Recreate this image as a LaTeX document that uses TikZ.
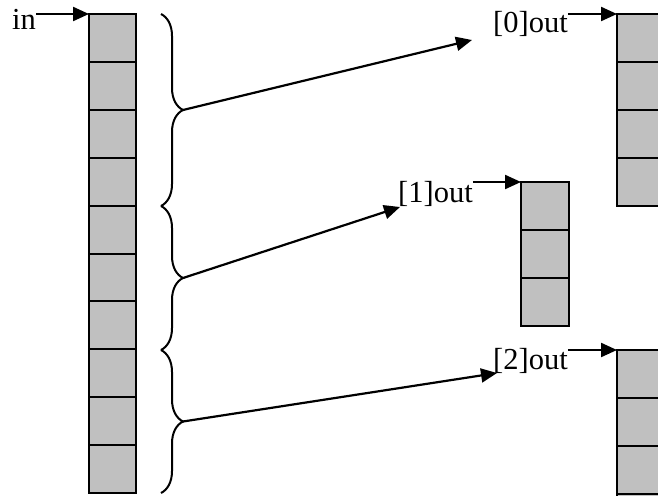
\documentclass[tikz,border=0pt]{standalone}
\usepackage{fontspec}
\setmainfont{Liberation Serif}
\usetikzlibrary{arrows.meta,decorations.pathreplacing}
\begin{document}
\begin{tikzpicture}[x=1pt,y=-1pt,
  cell/.style={fill={rgb,255:red,192;green,192;blue,192},draw=black,line width=2pt},
  arr/.style={line width=2.2pt,-{Triangle[length=16pt,width=14pt]}},
  lbl/.style={inner sep=0pt,anchor=base west,font=\fontsize{30.5}{34}\selectfont},
  brc/.style={line width=2pt,decorate,decoration={brace,amplitude=22pt}}]
\clip (0,0) rectangle (658,495);
\fill[white] (0,0) rectangle (658,495);
% stacks
\foreach \i in {0,...,9} \draw[cell] (89,{14+47.9*\i}) rectangle (136,{14+47.9*(\i+1)});
\foreach \i in {0,...,3} \draw[cell] (617,{14+48*\i}) rectangle (666,{14+48*(\i+1)});
\foreach \i in {0,...,2} \draw[cell] (521,{182+48*\i}) rectangle (569,{182+48*(\i+1)});
\foreach \i in {0,...,3} \draw[cell] (617,{350+48*\i}) rectangle (666,{350+48*(\i+1)});
\coordinate (inTop) at (89,14);
\coordinate (o0Top) at (617,14);
\coordinate (o1Top) at (521,182);
\coordinate (o2Top) at (617,350);
% labels
\node[lbl] (in) at (12,30) {in};
\node[lbl] (l0) at (493,33) {[0]out};
\node[lbl] (l1) at (398,202) {[1]out};
\node[lbl] (l2) at (493,369) {[2]out};
\draw[arr] (in.east |- inTop) -- (inTop);
\draw[arr] (l0.east |- o0Top) -- (o0Top);
\draw[arr] (l1.east |- o1Top) -- (o1Top);
\draw[arr] (l2.east |- o2Top) -- (o2Top);
% braces
\draw[brc] (161,14) -- (161,206);
\draw[brc] (161,206) -- (161,350);
\draw[brc] (161,350) -- (161,493);
\coordinate (b0) at (183,110);
\coordinate (b1) at (183,278);
\coordinate (b2) at (183,421.5);
\coordinate (e0) at (472,40);
\coordinate (e1) at (400,207);
\coordinate (e2) at (497,373);
\draw[arr] (b0) -- (e0);
\draw[arr] (b1) -- (e1);
\draw[arr] (b2) -- (e2);
\end{tikzpicture}
\end{document}
